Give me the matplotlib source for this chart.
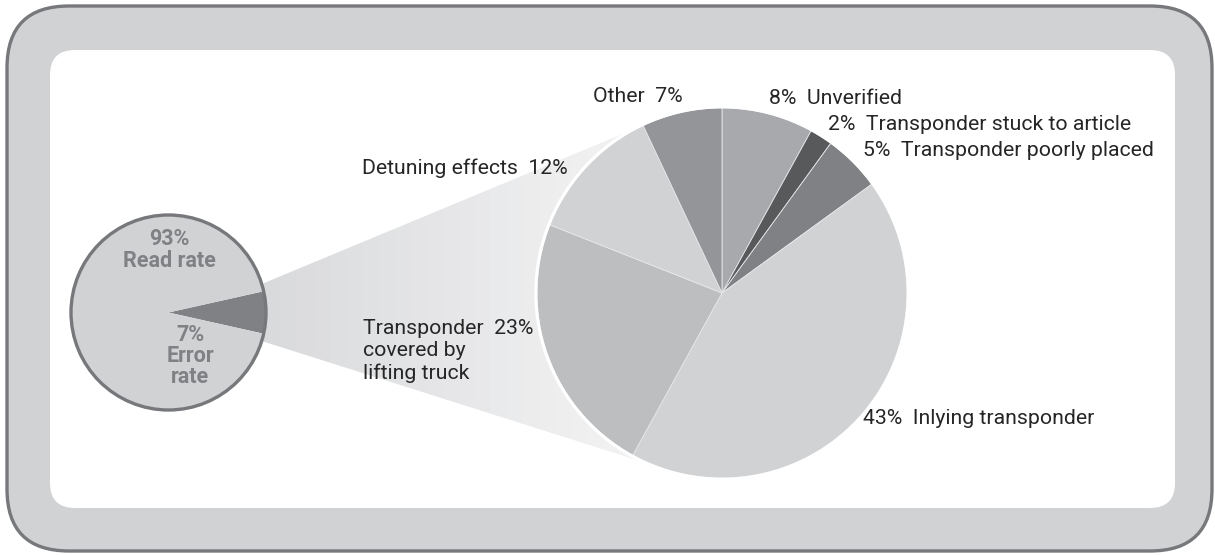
import numpy as np
import matplotlib
matplotlib.use("Agg")
import matplotlib.pyplot as plt
from matplotlib.patches import FancyBboxPatch, Circle, Polygon
from matplotlib.colors import to_rgb

# overall read rate vs. error rate
rate_labels = ["Error\nrate", "Read\nrate"]
rate_values = [7, 93]

# breakdown of the error rate
cause_names = [
    "Unverified",
    "Transponder stuck to article",
    "Transponder poorly placed",
    "Inlying transponder",
    "Transponder\ncovered by\nlifting truck",
    "Detuning effects",
    "Other",
]
cause_values = [8, 2, 5, 43, 23, 12, 7]
cause_colors = ["#a7a9ac", "#58595b", "#808184", "#d1d2d4", "#bcbec0", "#d1d2d4", "#939598"]

W, H = 1215, 555
TEXT = "#262626"
GREY = "#808184"
EDGE = "#77787b"

plt.rcParams["font.family"] = ["Roboto", "DejaVu Sans"]

fig = plt.figure(figsize=(W / 100, H / 100), dpi=100)
ax = fig.add_axes([0, 0, 1, 1])


def y(py):
    # pixel row (top-down) to data y (bottom-up)
    return H - py


# frame
ax.add_patch(FancyBboxPatch((7, y(551)), 1205, 545, boxstyle="round,pad=0,rounding_size=62",
                            facecolor="#d1d2d4", edgecolor=EDGE, linewidth=2.4, zorder=0))
ax.add_patch(FancyBboxPatch((50, y(508)), 1125, 458, boxstyle="round,pad=0,rounding_size=25",
                            facecolor="white", edgecolor="none", zorder=1))

small_c = (168.5, y(312.5))
small_r = 97.5
big_c = (722, y(293))
big_r = 185

# cone linking the error slice to the breakdown pie
def tangent_point(p, c, r, upper):
    dx, dy = p[0] - c[0], p[1] - c[1]
    d = np.hypot(dx, dy)
    phi = np.arctan2(dy, dx)
    a = np.arccos(r / d)
    ang = phi - a if upper else phi + a
    return c[0] + r * np.cos(ang), c[1] + r * np.sin(ang)

spread = np.deg2rad(17)
p_top = (small_c[0] + small_r * np.cos(spread), small_c[1] + small_r * np.sin(spread))
p_bot = (small_c[0] + small_r * np.cos(spread), small_c[1] - small_r * np.sin(spread))
t_top = tangent_point(p_top, big_c, big_r, upper=True)
t_bot = tangent_point(p_bot, big_c, big_r, upper=False)
a0 = np.arctan2(t_top[1] - big_c[1], t_top[0] - big_c[0])
a1 = np.arctan2(t_bot[1] - big_c[1], t_bot[0] - big_c[0])
if a1 < a0:
    a1 += 2 * np.pi
arc = np.linspace(a0, a1, 60)
cone_pts = [p_top] + [(big_c[0] + big_r * np.cos(t), big_c[1] + big_r * np.sin(t)) for t in arc] + [p_bot]
cone = Polygon(cone_pts, closed=True, facecolor="none", edgecolor="none", zorder=2)
ax.add_patch(cone)

x0 = small_c[0]
n = 30
c_left, c_right = np.array(to_rgb("#d3d4d6")), np.array(to_rgb("#f4f4f5"))
ramp = np.linspace(0, 1, n)[None, :, None]
grad = c_left + (c_right - c_left) * ramp
img = ax.imshow(grad, extent=(x0, 650, y(480), y(100)), origin="lower",
                interpolation="nearest", zorder=2, aspect="auto")
img.set_clip_path(cone)

# small pie
small_wedges, _ = ax.pie(rate_values, colors=[GREY, "#d1d2d4"],
                         startangle=-rate_values[0] * 3.6 / 2,
                         center=small_c, radius=small_r,
                         wedgeprops=dict(linewidth=0), frame=True)
for w in small_wedges:
    w.set_zorder(3)
ax.add_patch(Circle(small_c, small_r, facecolor="none", edgecolor=EDGE, linewidth=2.4, zorder=5))
ax.text(small_c[0] + 1, y(250), f"{rate_values[1]}%\n{rate_labels[1].replace(chr(10), ' ')}",
        ha="center", va="center", fontsize=15.5, fontweight="bold", color=GREY,
        linespacing=0.95, zorder=6)
ax.text(small_c[0] + 22, y(356), f"{rate_values[0]}%\n{rate_labels[0]}",
        ha="center", va="center", fontsize=15.5, fontweight="bold", color=GREY,
        linespacing=0.95, zorder=6)

# big pie
wedges, _ = ax.pie(cause_values, colors=cause_colors, startangle=90, counterclock=False,
                   center=big_c, radius=big_r, frame=True,
                   wedgeprops=dict(edgecolor="#e6e7e8", linewidth=0.6))
for w in wedges:
    w.set_zorder(4)
ax.add_patch(Circle(big_c, big_r + 1.2, facecolor="none", edgecolor="white", linewidth=2.2, zorder=4))

# label anchors: (x, y, ha) in pixel rows
label_pos = [
    (769, 99, "left"),
    (828, 125, "left"),
    (863, 150, "left"),
    (863, 418, "left"),
    (363, 351, "left"),
    (568, 168, "right"),
    (683, 97, "right"),
]
for name, val, (lx, ly, ha) in zip(cause_names, cause_values, label_pos):
    if ha == "left" and lx > big_c[0]:
        txt = f"{val}%  {name}"
    else:
        lines = name.split("\n")
        lines[0] = f"{lines[0]}  {val}%"
        txt = "\n".join(lines)
    ax.text(lx, y(ly), txt, ha=ha, va="center", fontsize=15.3, color=TEXT,
            linespacing=1.2, zorder=6)

ax.set_xlim(0, W)
ax.set_ylim(0, H)
ax.set_aspect("auto")
ax.axis("off")

fig.savefig("out.png", dpi=100, facecolor="white")
